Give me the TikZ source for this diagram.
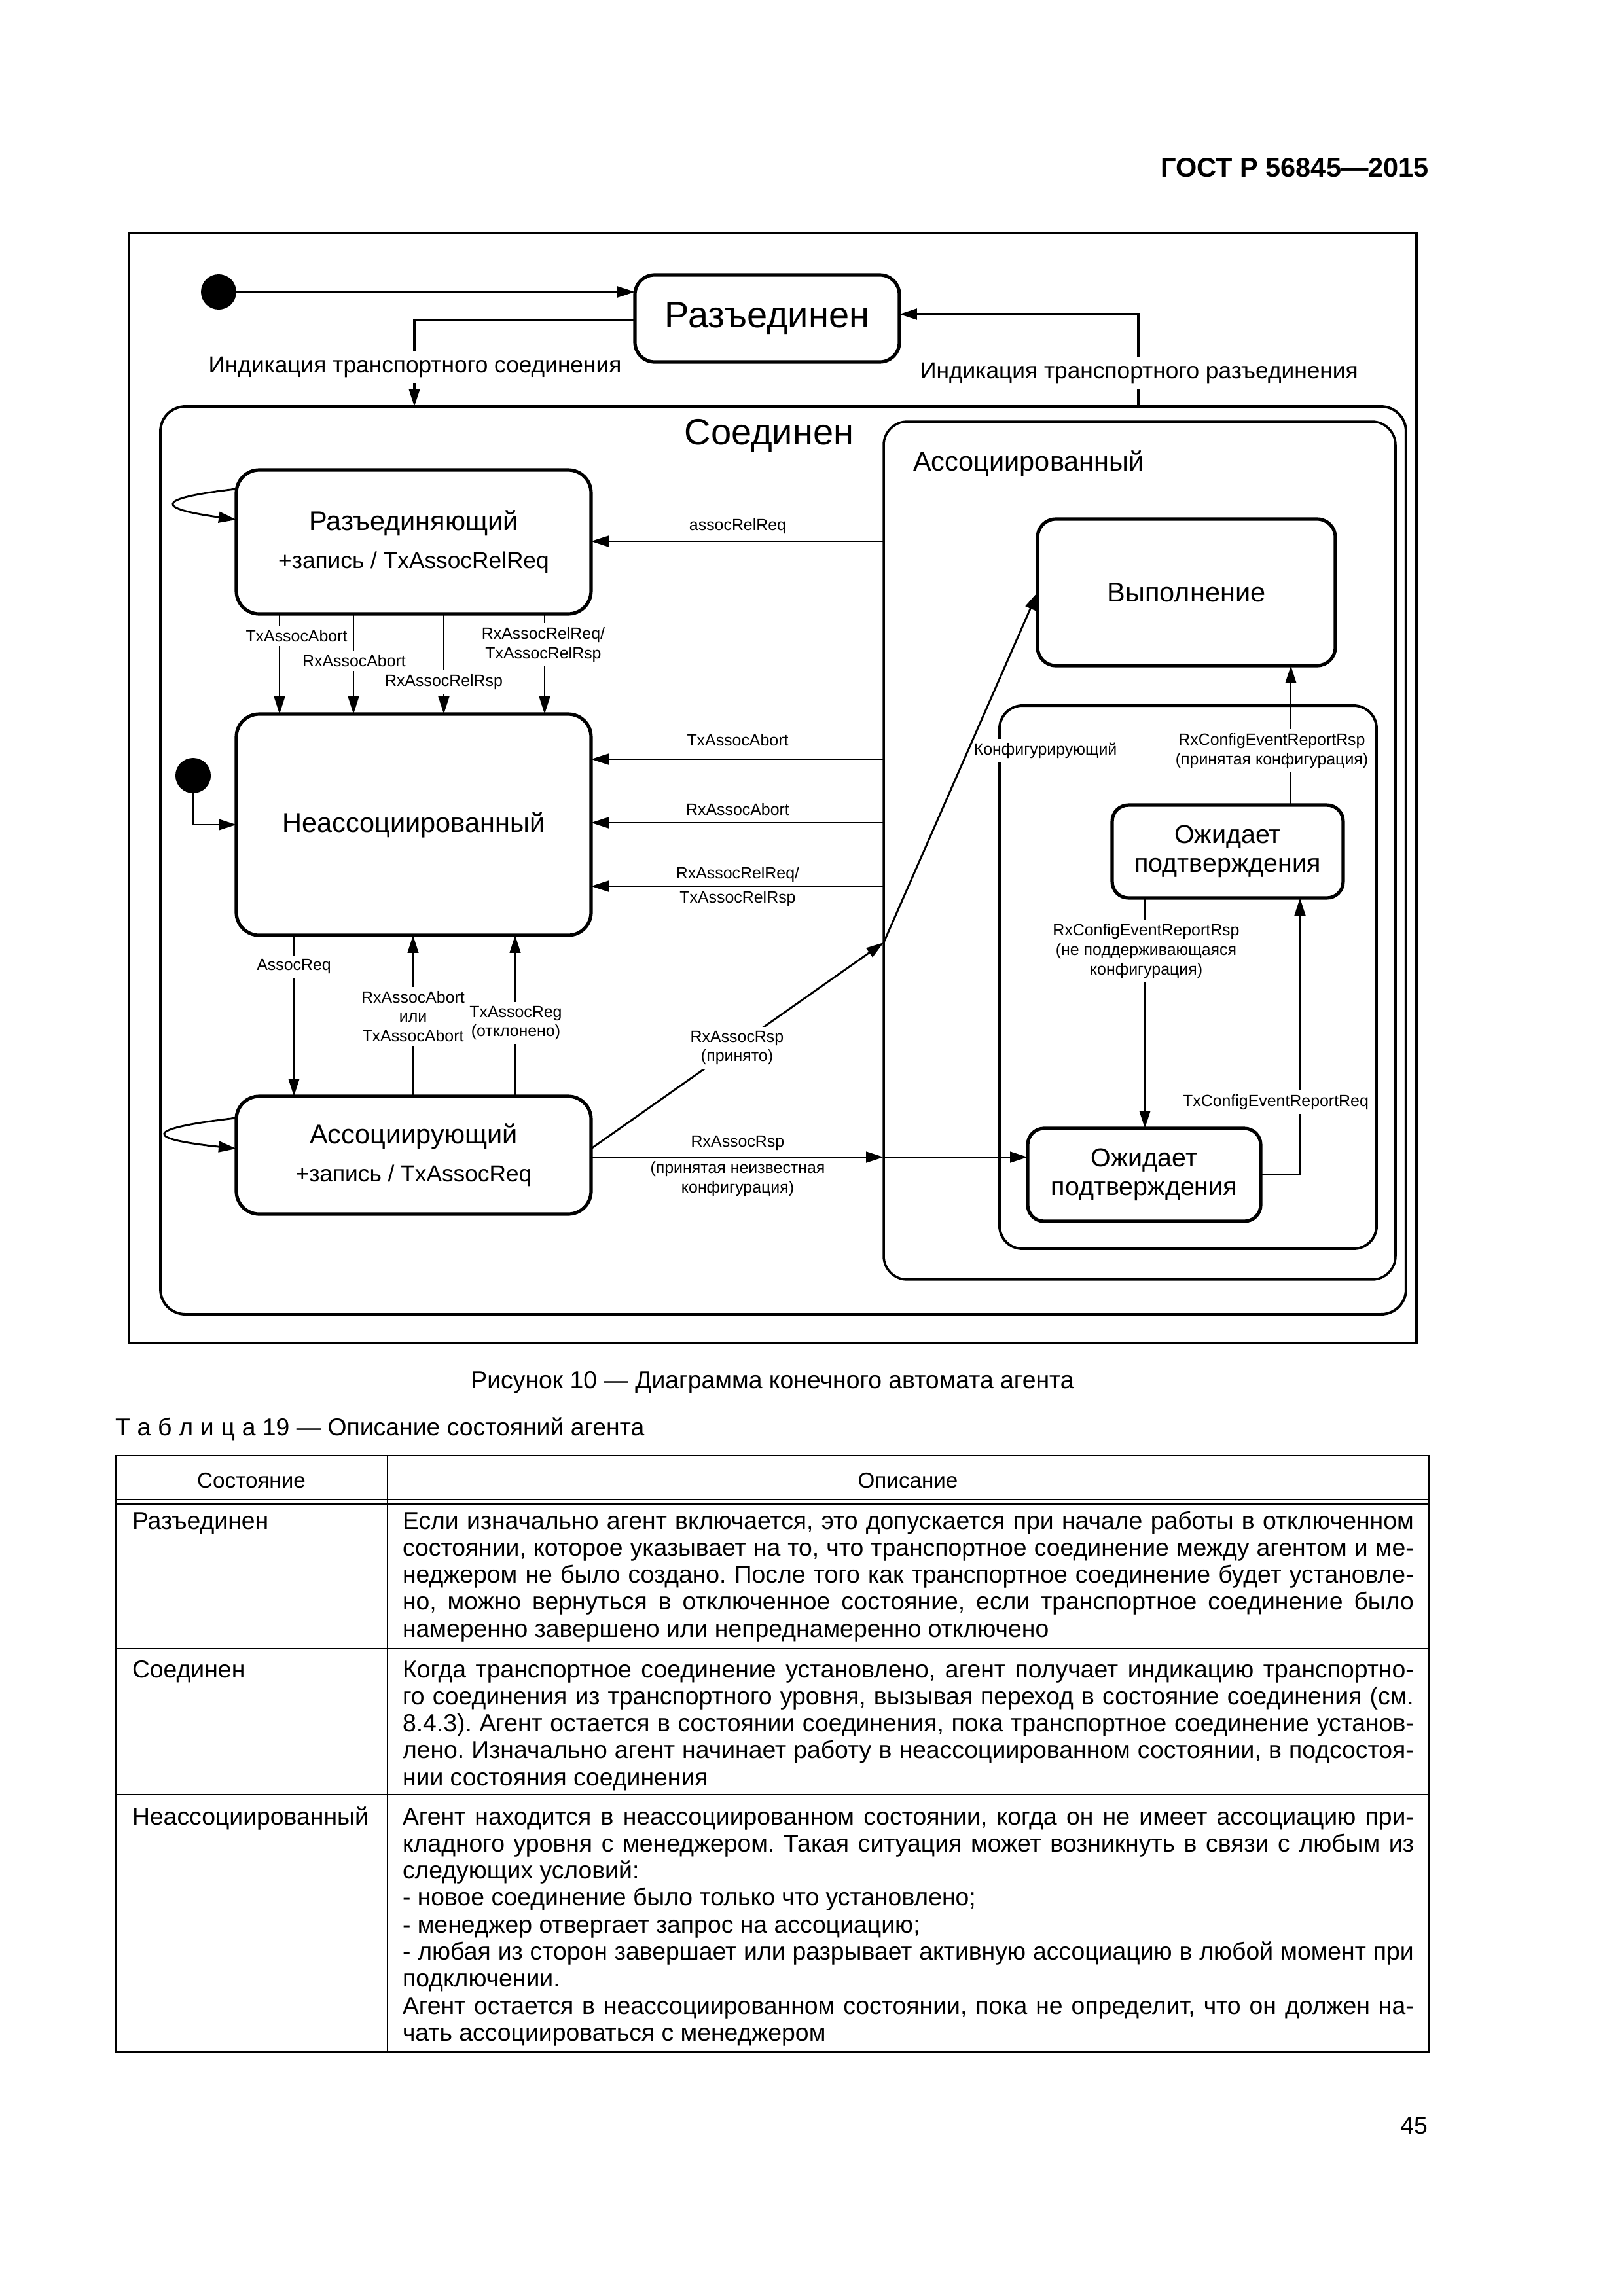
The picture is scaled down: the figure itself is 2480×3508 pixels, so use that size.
\documentclass[tikz,border=0pt]{standalone}
\usepackage{fontspec}
\setmainfont{Liberation Sans}
\usetikzlibrary{arrows.meta}
\frenchspacing
\newdimen\pxu
\pxu=0.24093pt
\newcommand{\myfs}[2]{\fontsize{#1}{#2}\selectfont}
\newcommand{\cellpar}[1]{\parbox[t]{1545\pxu}{\myfs{9pt}{9.95pt}\frenchspacing\tolerance=10000\hyphenpenalty=10000\exhyphenpenalty=10000\emergencystretch=0pt #1}}
\begin{document}
\begin{tikzpicture}[x=0.0084677cm,y=-0.0084677cm,
  every node/.style={inner sep=0pt, outer sep=0pt},
  state/.style={draw, line width=1.25pt, rounded corners=30\pxu, align=center},
  cont/.style={draw, line width=0.95pt, rounded corners=38\pxu},
  dot/.style={circle, fill=black, minimum size=54\pxu},
  arr/.style={-{Triangle[length=6.5pt,width=4pt]}, line width=0.7pt},
  lab/.style={font=\myfs{6pt}{7.2pt}, align=center},
  wlab/.style={lab, fill=white, inner sep=1.5pt},
  blab/.style={font=\myfs{8.5pt}{10pt}, fill=white, inner sep=2pt},
  tline/.style={line width=0.55pt},
  body/.style={font=\myfs{9pt}{9.95pt}, anchor=base west},
  head/.style={font=\myfs{8pt}{9.6pt}, anchor=base},
]
\fill[white] (0,0) rectangle (2480,3508);
\useasboundingbox (0,0) rectangle (2480,3508);

% page header
\node[font=\bfseries\myfs{10pt}{12pt}, anchor=base east] (hdr) at (2183,270) {ГОСТ Р 56845—2015};

% frame and containers
\node[draw, line width=1.1pt, minimum width=1967\pxu, minimum height=1696\pxu] (F) at (1180.5,1204) {};
\node[cont, minimum width=1903\pxu, minimum height=1387\pxu] (C) at (1196.5,1314.5) {};
\node[cont, line width=0.85pt, rounded corners=36\pxu, minimum width=782\pxu, minimum height=1311\pxu] (A) at (1741,1299.5) {};
\node[cont, rounded corners=35\pxu, minimum width=576\pxu, minimum height=830\pxu] (K) at (1815,1493) {};

% titles
\node[font=\myfs{13.5pt}{16pt}] (tC) at (1175,666) {Соединен};
\node[font=\myfs{10pt}{12pt}, anchor=west] (tA) at (1395,708) {Ассоциированный};

% states
\node[dot] (d1) at (334,446) {};
\node[dot] (d2) at (295,1185) {};
\node[state, minimum width=404\pxu, minimum height=133\pxu, font=\myfs{13.5pt}{16pt}] (R) at (1172,486.5) {Разъединен};
\node[state, rounded corners=35\pxu, minimum width=542\pxu, minimum height=220\pxu] (R2) at (632,828)
  {\myfs{10pt}{12pt}Разъединяющий\\[2pt]\myfs{8.5pt}{10pt}+запись / TxAssocRelReq};
\node[state, rounded corners=35\pxu, minimum width=542\pxu, minimum height=338\pxu, font=\myfs{10pt}{12pt}] (N) at (632,1260) {Неассоциированный};
\node[state, rounded corners=35\pxu, minimum width=542\pxu, minimum height=180\pxu] (AS) at (632,1765)
  {\myfs{10pt}{12pt}Ассоциирующий\\[2pt]\myfs{8.5pt}{10pt}+запись / TxAssocReq};
\node[state, rounded corners=28\pxu, minimum width=455\pxu, minimum height=224\pxu, font=\myfs{10pt}{12pt}] (V) at (1812.5,905) {Выполнение};
\node[state, rounded corners=25\pxu, minimum width=353\pxu, minimum height=142\pxu, font=\myfs{9.5pt}{10.7pt}] (W1) at (1875.5,1301) {Ожидает\\подтверждения};
\node[state, rounded corners=25\pxu, minimum width=356\pxu, minimum height=142\pxu, font=\myfs{9.5pt}{10.7pt}] (W2) at (1748,1795) {Ожидает\\подтверждения};

% helper coordinates
\coordinate (kL) at (633,489);
\coordinate (kR) at (1739,480);
\coordinate (q1) at (0,747);
\coordinate (q2) at (0,794);
\coordinate (q3) at (0,1708);
\coordinate (q4) at (0,1755);
\coordinate (yA) at (0,827);
\coordinate (v1) at (427,0);
\coordinate (v2) at (540,0);
\coordinate (v3) at (678,0);
\coordinate (v4) at (832,0);
\coordinate (h1) at (0,1160);
\coordinate (h2) at (0,1257);
\coordinate (h3) at (0,1354);
\coordinate (v5) at (449,0);
\coordinate (v6) at (631,0);
\coordinate (v7) at (787,0);
\coordinate (yd) at (0,1755);
\coordinate (yj) at (0,1440);
\coordinate (yh) at (0,1768);
\coordinate (v8) at (1986,0);
\coordinate (v9) at (1749,0);
\coordinate (v10) at (1972,0);

% connectors
\draw[arr, line width=0.8pt] (d1) -- (d1 -| R.west);
\draw[arr, line width=0.8pt] (R.west |- kL) -| (kL |- C.north);
\draw[arr, line width=0.8pt] (kR |- C.north) |- (R.east |- kR);
\draw[arr] (d2) |- (N.west);
\draw[arr] (R2.west |- q1) .. controls (232,762) and (240,777) .. (R2.west |- q2);
\draw[arr] (AS.west |- q3) .. controls (215,1725) and (222,1740) .. (AS.west |- q4);
\draw[arr] (A.west |- yA) -- (R2.east |- yA);
\draw[arr, line width=0.6pt] (R2.south -| v1) -- (N.north -| v1);
\draw[arr, line width=0.6pt] (R2.south -| v2) -- (N.north -| v2);
\draw[arr, line width=0.6pt] (R2.south -| v3) -- (N.north -| v3);
\draw[arr, line width=0.6pt] (R2.south -| v4) -- (N.north -| v4);
\draw[arr] (A.west |- h1) -- (N.east |- h1);
\draw[arr] (A.west |- h2) -- (N.east |- h2);
\draw[arr] (A.west |- h3) -- (N.east |- h3);
\draw[arr, line width=0.6pt] (N.south -| v5) -- (AS.north -| v5);
\draw[arr, line width=0.6pt] (AS.north -| v6) -- (N.south -| v6);
\draw[arr, line width=0.6pt] (AS.north -| v7) -- (N.south -| v7);
\draw[arr] (AS.east |- yh) -- (A.west |- yh);
\draw[arr] (A.west |- yh) -- (W2.west |- yh);
\draw[arr] (W2.east) -| (W1.south -| v8);
\draw[arr] (W1.south -| v9) -- (W2.north -| v9);
\draw[arr] (W1.north -| v10) -- (V.south -| v10);

% labels
\node[blab] (lb1) at (634,561) {Индикация транспортного соединения};
\node[blab] (lb2) at (1740,570) {Индикация транспортного разъединения};
\node[lab] (l1) at (1127,804) {assocRelReq};
\node[wlab] (l2) at (453,972) {TxAssocAbort};
\node[wlab] (l3) at (541,1010) {RxAssocAbort};
\node[wlab] (l4) at (678,1042) {RxAssocRelRsp};
\node[wlab] (l5) at (830,985) {RxAssocRelReq/\\TxAssocRelRsp};
\node[lab] (l6) at (1127,1131) {TxAssocAbort};
\node[lab] (l7) at (1127,1237) {RxAssocAbort};
\node[lab] (l8) at (1127,1336) {RxAssocRelReq/};
\node[lab] (l9) at (1127,1373) {TxAssocRelRsp};
\node[wlab] (l10) at (449,1477) {AssocReq};
\node[wlab] (l11) at (631,1553) {RxAssocAbort\\или\\TxAssocAbort};
\node[wlab] (l12) at (788,1563) {TxAssocReg\\(отклонено)};
\node[lab] (l14) at (1127,1746) {RxAssocRsp};
\node[lab] (l15) at (1127,1801) {(принятая неизвестная\\конфигурация)};
\node[wlab] (tK) at (1597,1147) {Конфигурирующий};
\node[wlab] (l16) at (1943,1147) {RxConfigEventReportRsp\\(принятая конфигурация)};
\node[wlab] (l17) at (1751,1453) {RxConfigEventReportRsp\\(не поддерживающаяся\\конфигурация)};
\node[wlab] (l18) at (1949,1684) {TxConfigEventReportReq};

% diagonal transition
\draw[arr] (AS.east |- yd) -- (A.west |- yj);
\draw[arr] (A.west |- yj) -- (V.west);
\node[wlab] (l13) at (1126,1601) {RxAssocRsp\\(принято)};

% caption and table title
\node[font=\myfs{9pt}{11pt}, anchor=base] (cap) at (1180,2121) {Рисунок 10 — Диаграмма конечного автомата агента};
\node[font=\myfs{9pt}{11pt}, anchor=base west] (ttl) at (176,2193)
  {Т\kern2.6pt а\kern2.6pt б\kern2.6pt л\kern2.6pt и\kern2.6pt ц\kern2.6pt а 19 — Описание состояний агента};

% table
\draw[line width=0.7pt] (177,2224) rectangle (2183,3135);
\draw[tline] (592,2224) -- (592,3135);
\draw[tline] (177,2291) -- (2183,2291);
\draw[tline] (177,2298) -- (2183,2298);
\draw[tline] (177,2519) -- (2183,2519);
\draw[tline] (177,2742) -- (2183,2742);

\node[head] (th1) at (384,2273) {Состояние};
\node[head] (th2) at (1387,2273) {Описание};

\node[body] (r1a) at (202,2336) {Разъединен};
\node[body] (r1b) at (615,2336) {\cellpar{Если изначально агент включается, это допускается при начале работы в отключенном\linebreak
состоянии, которое указывает на то, что транспортное соединение между агентом и ме-\linebreak
неджером не было создано. После того как транспортное соединение будет установле-\linebreak
но, можно вернуться в отключенное состояние, если транспортное соединение было\linebreak
намеренно завершено или непреднамеренно отключено}};

\node[body] (r2a) at (202,2563) {Соединен};
\node[body] (r2b) at (615,2563) {\cellpar{Когда транспортное соединение установлено, агент получает индикацию транспортно-\linebreak
го соединения из транспортного уровня, вызывая переход в состояние соединения (см.\linebreak
8.4.3). Агент остается в состоянии соединения, пока транспортное соединение установ-\linebreak
лено. Изначально агент начинает работу в неассоциированном состоянии, в подсостоя-\linebreak
нии состояния соединения}};

\node[body] (r3a) at (202,2788) {Неассоциированный};
\node[body] (r3b) at (615,2788) {\cellpar{Агент находится в неассоциированном состоянии, когда он не имеет ассоциацию при-\linebreak
кладного уровня с менеджером. Такая ситуация может возникнуть в связи с любым из\linebreak
следующих условий:\newline
- новое соединение было только что установлено;\newline
- менеджер отвергает запрос на ассоциацию;\newline
- любая из сторон завершает или разрывает активную ассоциацию в любой момент при\linebreak
подключении.\newline
Агент остается в неассоциированном состоянии, пока не определит, что он должен на-\linebreak
чать ассоциироваться с менеджером}};

\node[font=\myfs{9pt}{11pt}, anchor=base east] (pg) at (2181,3260) {45};
\end{tikzpicture}
\end{document}
